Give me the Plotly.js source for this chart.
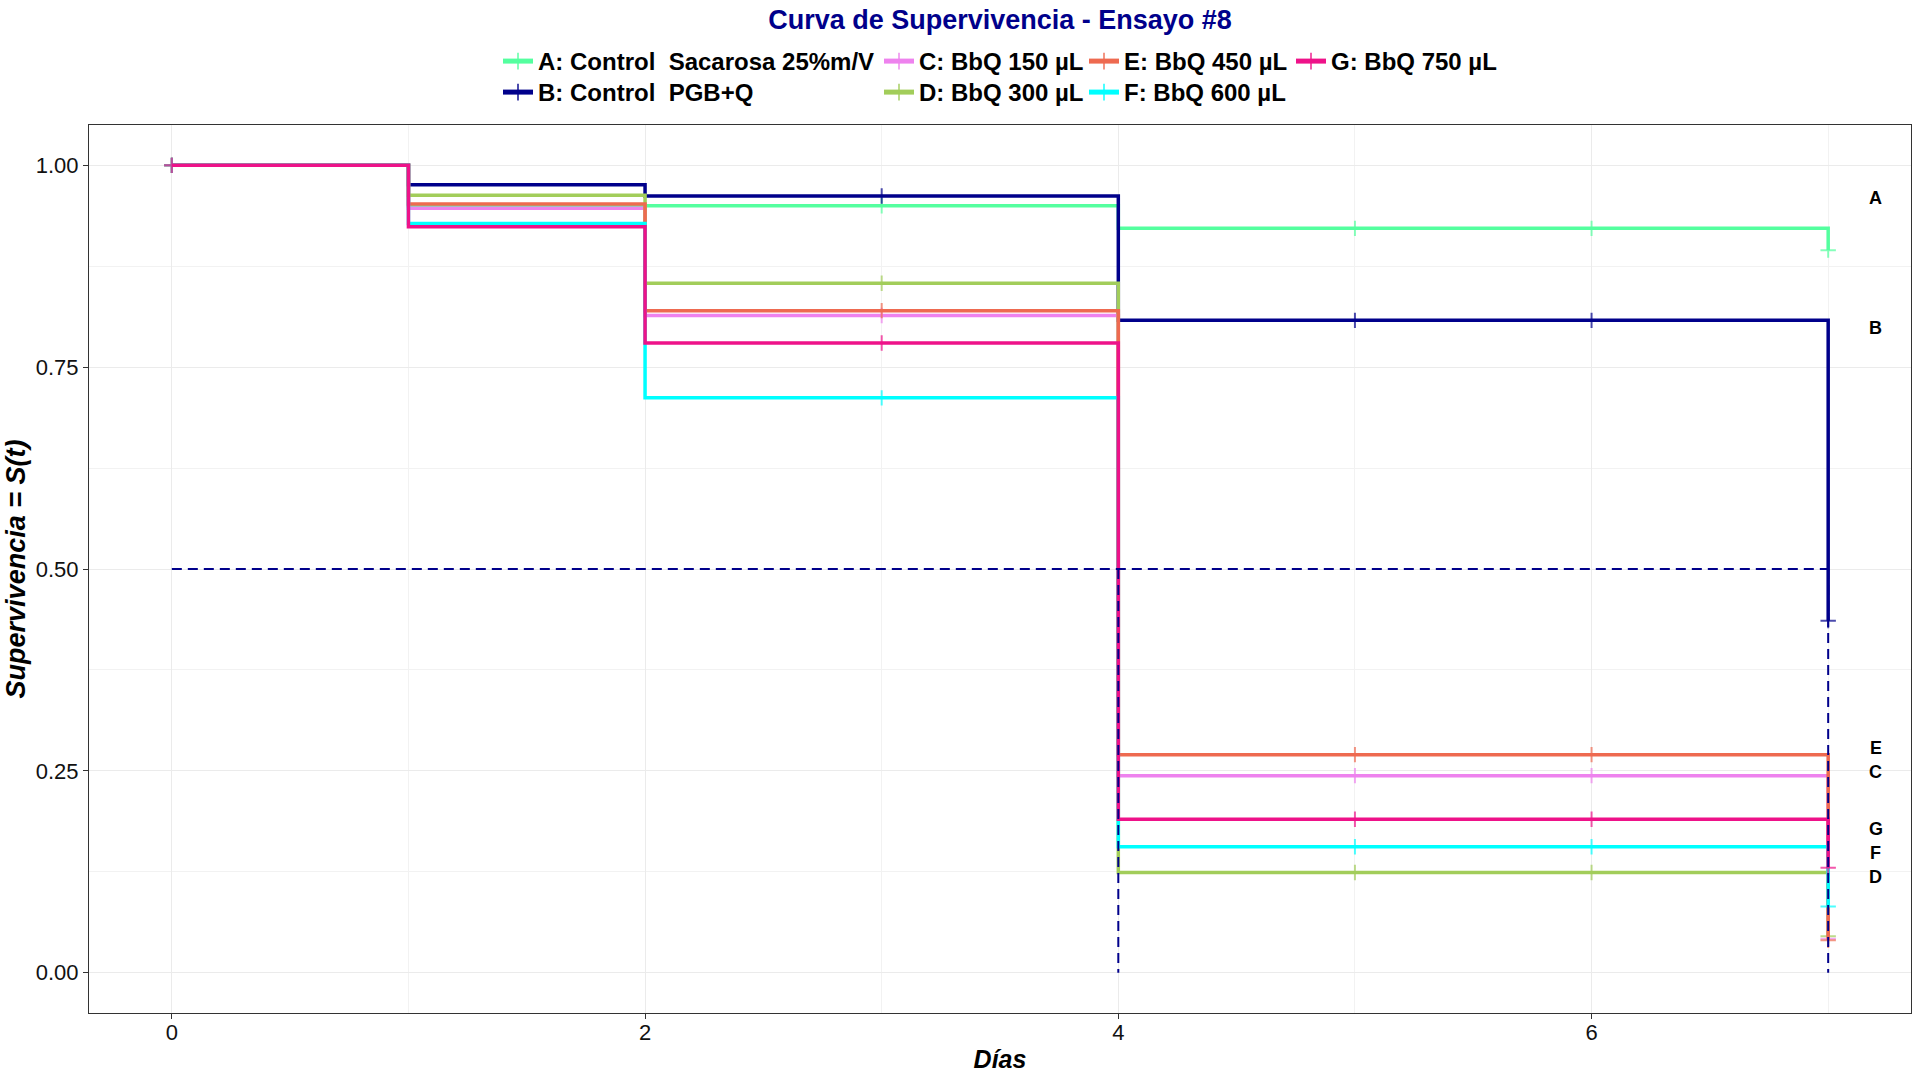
<!DOCTYPE html>
<html><head><meta charset="utf-8">
<script src="https://cdn.plot.ly/plotly-3.0.1.min.js"></script>
<style>html,body{margin:0;padding:0;background:#fff}#chart{width:1920px;height:1080px}</style>
</head><body><div id="chart"></div>
<script>
// ---- data ----
const days = [0, 1, 2, 3, 4, 5, 6, 7];
const survA = [1, 0.950, 0.950, 0.950, 0.922, 0.922, 0.922, 0.895];
const survB = [1, 0.976, 0.962, 0.962, 0.808, 0.808, 0.808, 0.436];
const survC = [1, 0.947, 0.814, 0.814, 0.244, 0.244, 0.244, 0.042];
const survD = [1, 0.963, 0.854, 0.854, 0.124, 0.124, 0.124, 0.045];
const survE = [1, 0.952, 0.820, 0.820, 0.270, 0.270, 0.270, 0.040];
const survF = [1, 0.928, 0.712, 0.712, 0.156, 0.156, 0.156, 0.082];
const survG = [1, 0.924, 0.780, 0.780, 0.190, 0.190, 0.190, 0.130];
const censorDaysA = [0, 2, 3, 5, 6, 7];
const censorDaysOther = [0, 3, 5, 6, 7];
const seriesNames = [
  'A: Control\u00a0 Sacarosa 25%m/V',
  'B: Control\u00a0 PGB+Q',
  'C: BbQ 150 µL',
  'D: BbQ 300 µL',
  'E: BbQ 450 µL',
  'F: BbQ 600 µL',
  'G: BbQ 750 µL'
];
const seriesColors = ['#54FF9F', '#00008B', '#EE82EE', '#A2CD5A', '#EE6A50', '#00FFFF', '#EE1289'];
const medianTimes = [4, 7];
const medianLevel = 0.5;
const endLabels = ['A', 'B', 'E', 'C', 'G', 'F', 'D'];
const endLabelY = [0.959, 0.798, 0.278, 0.248, 0.178, 0.148, 0.119];
const endLabelX = 7.2;
const xTicks = [0, 2, 4, 6];
const yTicks = [0, 0.25, 0.5, 0.75, 1];

// ---- build ----
const FONT = 'Liberation Sans, Arial, Helvetica, sans-serif';
const allSurv = [survA, survB, survC, survD, survE, survF, survG];
const legendIds = ['legend', 'legend2', 'legend3', 'legend4', 'legend5', 'legend6', 'legend7'];
// legend grid: column (left px) and row (top px) of each entry
const legendLeftPx = [498, 498, 879, 879, 1084, 1084, 1291];
const legendTopPx = [39, 70, 39, 70, 39, 70, 39];

const traces = allSurv.map((s, i) => {
  const cens = i === 0 ? censorDaysA : censorDaysOther;
  return {
    type: 'scatter',
    mode: 'lines+markers',
    x: days,
    y: s,
    name: seriesNames[i],
    legend: legendIds[i],
    line: {shape: 'hv', color: seriesColors[i], width: 3.5},
    marker: {
      symbol: 'cross-thin',
      size: days.map(d => cens.includes(d) ? 11 : 0),
      color: seriesColors[i],
      line: {color: seriesColors[i], width: 2}
    },
    hoverinfo: 'x+y+name'
  };
});

const shapes = [];
const tMax = Math.max(...medianTimes);
shapes.push({type: 'line', xref: 'x', yref: 'y', x0: 0, x1: tMax, y0: medianLevel, y1: medianLevel,
  line: {color: '#00008B', width: 2, dash: '10px,6px'}, layer: 'above'});
medianTimes.forEach(t => {
  shapes.push({type: 'line', xref: 'x', yref: 'y', x0: t, x1: t, y0: medianLevel, y1: 0,
    line: {color: '#00008B', width: 2, dash: '10px,6px'}, layer: 'above'});
});

const annotations = endLabels.map((lab, i) => ({
  x: endLabelX, y: endLabelY[i], xref: 'x', yref: 'y', text: lab, showarrow: false,
  font: {family: FONT, size: 18, color: '#000', weight: 'bold'}, xanchor: 'center', yanchor: 'middle'
}));

const plotL = 89, plotR = 1911, plotT = 125, plotB = 1013;
const pw = plotR - plotL, ph = plotB - plotT;
const legendFont = {family: FONT, size: 24, color: '#000', weight: 'bold'};

const layout = {
  width: 1920, height: 1080,
  paper_bgcolor: '#fff', plot_bgcolor: '#fff',
  margin: {l: plotL, r: 1920 - plotR, t: plotT, b: 1080 - plotB, pad: 0},
  title: {text: 'Curva de Supervivencia - Ensayo #8', x: 0.5, xref: 'paper', xanchor: 'center',
    y: 1 - 20 / 1080, yref: 'container', yanchor: 'middle',
    font: {family: FONT, size: 27, color: '#00008B', weight: 'bold'}},
  showlegend: true,
  xaxis: {
    range: [-0.35, 7.35], tickvals: xTicks, ticktext: xTicks.map(String),
    showgrid: true, gridcolor: '#EBEBEB', gridwidth: 1.1,
    minor: {dtick: 1, tick0: 0, showgrid: true, gridcolor: '#F2F2F2', gridwidth: 0.6, ticks: ''},
    zeroline: false, showline: true, mirror: true, linecolor: '#333333', linewidth: 1,
    ticks: 'outside', ticklen: 5, tickwidth: 1, tickcolor: '#333333', ticklabelstandoff: -5,
    tickfont: {family: FONT, size: 22, color: '#111'},
    title: {text: 'Días', standoff: 6, font: {family: FONT, size: 25, color: '#000', weight: 'bold', style: 'italic'}},
    automargin: false
  },
  yaxis: {
    range: [-0.05, 1.05], tickvals: yTicks, ticktext: yTicks.map(v => v.toFixed(2)),
    showgrid: true, gridcolor: '#EBEBEB', gridwidth: 1.1,
    minor: {dtick: 0.125, tick0: 0, showgrid: true, gridcolor: '#F2F2F2', gridwidth: 0.6, ticks: ''},
    zeroline: false, showline: true, mirror: true, linecolor: '#333333', linewidth: 1,
    ticks: 'outside', ticklen: 5, tickwidth: 1, tickcolor: '#333333',
    tickfont: {family: FONT, size: 22, color: '#111'},
    title: {text: 'Supervivencia = S(t)', standoff: 2, font: {family: FONT, size: 27, color: '#000', weight: 'bold', style: 'italic'}},
    automargin: false
  },
  shapes: shapes,
  annotations: annotations,
  hovermode: 'closest'
};

legendIds.forEach((id, i) => {
  layout[id] = {
    orientation: 'v', x: (legendLeftPx[i] - plotL) / pw, xanchor: 'left',
    y: (plotB - legendTopPx[i]) / ph, yanchor: 'top',
    font: legendFont, bgcolor: 'rgba(0,0,0,0)', borderwidth: 0, itemsizing: 'constant', itemwidth: 30,
    itemclick: false, itemdoubleclick: false
  };
});

Plotly.newPlot('chart', traces, layout, {displayModeBar: false, responsive: false});
</script>
</body></html>
